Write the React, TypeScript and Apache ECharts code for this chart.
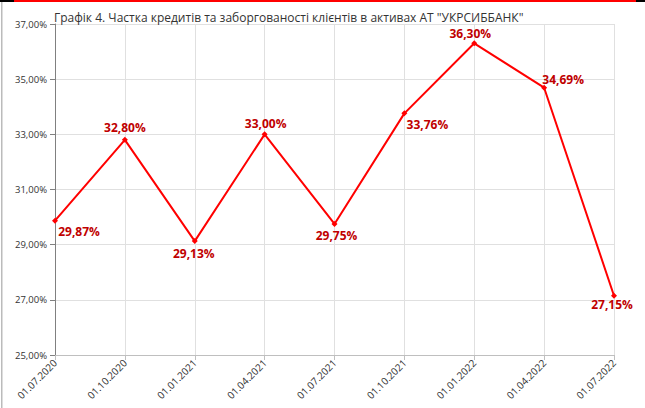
import React, { useEffect, useRef } from "react";
import * as echarts from "echarts";

const titleText = 'Графік 4. Частка кредитів та заборгованості клієнтів в активах АТ "УКРСИББАНК"';
const categories = ["01.07.2020", "01.10.2020", "01.01.2021", "01.04.2021", "01.07.2021", "01.10.2021", "01.01.2022", "01.04.2022", "01.07.2022"];
const values = [29.87, 32.8, 29.13, 33.0, 29.75, 33.76, 36.3, 34.69, 27.15];
const labelOffsets: [number, number][] = [[24, 11], [0, -12], [-1, 12], [1, -11], [2, 12], [23, 11], [-4, -10], [19, -8], [-2, 9]];

export default function App() {
  const ref = useRef<HTMLDivElement>(null);
  useEffect(() => {
    const chart = echarts.init(ref.current!, null, { renderer: "svg" });
    const fmt = (v: number) => v.toFixed(2).replace(".", ",") + "%";
    chart.setOption({
      animation: false,
      backgroundColor: "#ffffff",
      title: {
        text: titleText,
        left: 49,
        top: 6,
        textStyle: { fontFamily: "Open Sans", fontSize: 12, fontWeight: "normal", color: "#333" },
      },
      graphic: [
        { type: "rect", shape: { x: 0, y: 0, width: 645, height: 2 }, style: { fill: "#ff0000" } },
        { type: "rect", shape: { x: 0, y: 0, width: 14, height: 2 }, style: { fill: "#000" } },
        { type: "rect", shape: { x: 636, y: 0, width: 9, height: 2 }, style: { fill: "#000" } },
        { type: "rect", shape: { x: 1, y: 2, width: 1.5, height: 406 }, style: { fill: "#bbb" } },
      ],
      grid: { left: 55, right: 31, top: 24, bottom: 53 },
      xAxis: {
        type: "category",
        data: categories,
        boundaryGap: false,
        axisLine: { lineStyle: { color: "#bfbfbf" } },
        axisTick: { show: true, alignWithLabel: true, lineStyle: { color: "#bfbfbf" } },
        splitLine: { show: true, lineStyle: { color: "#e0e0e0" } },
        axisLabel: { rotate: 45, fontFamily: "Open Sans", fontSize: 10, color: "#333", margin: 6, interval: 0 },
      },
      yAxis: {
        type: "value",
        min: 25,
        max: 37,
        interval: 2,
        axisLine: { show: true, lineStyle: { color: "#808080" } },
        axisTick: { show: true, lineStyle: { color: "#808080" } },
        splitLine: { show: true, lineStyle: { color: "#e0e0e0" } },
        axisLabel: { formatter: (v: number) => fmt(v), fontFamily: "Open Sans", fontSize: 9.5, color: "#333", margin: 8 },
      },
      series: [
        {
          type: "line",
          data: values.map((v, i) => ({
            value: v,
            label: { position: "inside", offset: labelOffsets[i] },
          })),
          lineStyle: { color: "#ff0000", width: 2 },
          itemStyle: { color: "#ff0000" },
          symbol: "diamond",
          symbolSize: 6,
          label: {
            show: true,
            formatter: (p: any) => fmt(p.value),
            fontFamily: "Open Sans",
            fontWeight: "bold",
            fontSize: 12,
            color: "#c00000",
          },
        },
      ],
    });
    return () => chart.dispose();
  }, []);
  return <div ref={ref} style={{ width: 645, height: 408, position: "absolute", left: 0, top: 0 }} />;
}
